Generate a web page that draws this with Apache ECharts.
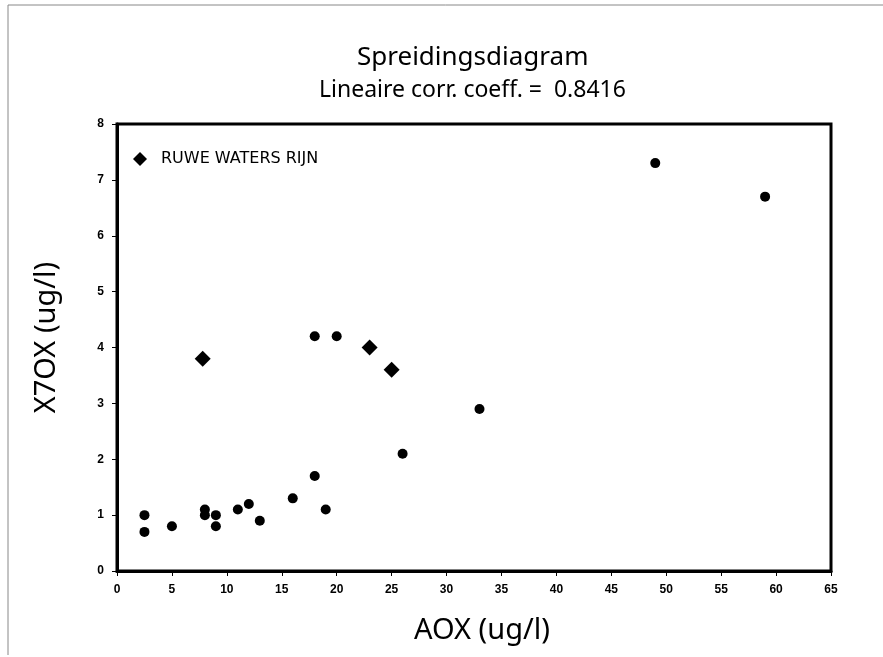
<!DOCTYPE html>
<html>
<head>
<meta charset="utf-8">
<title>Spreidingsdiagram</title>
<script src="https://cdn.jsdelivr.net/npm/echarts@6/dist/echarts.min.js"></script>
<style>
    html, body { margin: 0; padding: 0; background: #fff; }
    #chart { width: 883px; height: 657px; }
</style>
</head>
<body>
<div id="chart"></div>
<script>
// overige meetpunten (AOX, X7OX)
const otherPoints = [
    [2.5, 1.0], [2.5, 0.7], [5, 0.8], [8, 1.1], [8, 1.0], [9, 1.0], [9, 0.8],
    [11, 1.1], [12, 1.2], [13, 0.9], [16, 1.3], [18, 1.7], [19, 1.1],
    [26, 2.1], [33, 2.9], [18, 4.2], [20, 4.2], [49, 7.3], [59, 6.7]
];
// ruwe waters Rijn
const rijnPoints = [[7.8, 3.8], [23, 4.0], [25, 3.6]];

const xTicks = { min: 0, max: 65, interval: 5 };
const yTicks = { min: 0, max: 8, interval: 1 };

const titleText = 'Spreidingsdiagram';
const subText = 'Lineaire corr. coeff. =  0.8416';
const legendName = 'RUWE WATERS RIJN';

const fontFam = '"Noto Sans", "DejaVu Sans", sans-serif';
const tickFont = '"Liberation Sans", Arial, sans-serif';

function initChart() {
    const chart = echarts.init(document.getElementById('chart'));
    const axisLine = { show: true, onZero: false, lineStyle: { color: '#000', width: 3 } };
    const axisTick = { show: true, inside: false, length: 5, lineStyle: { color: '#000', width: 1 } };

    chart.setOption({
        animation: false,
        backgroundColor: '#fff',
        title: [
            {
                text: titleText,
                left: 352,
                top: 40,
                textStyle: { fontSize: 26, fontWeight: 'normal', color: '#000', fontFamily: fontFam }
            },
            {
                text: subText,
                left: 314,
                top: 74,
                textStyle: { fontSize: 23, fontWeight: 'normal', color: '#000', fontFamily: fontFam }
            }
        ],
        legend: {
            left: 128,
            top: 146,
            data: [legendName],
            itemWidth: 14,
            itemHeight: 14,
            textStyle: { fontSize: 16, color: '#000', fontFamily: '"DejaVu Sans", sans-serif', padding: [0, 0, 0, 9] }
        },
        grid: { left: 117, right: 52, top: 124, bottom: 86, show: true, borderColor: '#000', borderWidth: 3 },
        xAxis: {
            type: 'value',
            min: xTicks.min,
            max: xTicks.max,
            interval: xTicks.interval,
            name: 'AOX (ug/l)',
            nameLocation: 'middle',
            nameGap: 45,
            nameTextStyle: { fontSize: 29, color: '#000', fontFamily: fontFam, padding: [0, 0, 0, 16] },
            axisLine, axisTick,
            axisLabel: { color: '#000', fontSize: 12, fontWeight: 'bold', fontFamily: tickFont, margin: 13 },
            splitLine: { show: false }
        },
        yAxis: {
            type: 'value',
            min: yTicks.min,
            max: yTicks.max,
            interval: yTicks.interval,
            name: 'X7OX (ug/l)',
            nameLocation: 'middle',
            nameGap: 56,
            nameTextStyle: { fontSize: 29, color: '#000', fontFamily: fontFam, padding: [0, 0, 0, 20] },
            axisLine, axisTick,
            axisLabel: { color: '#000', fontSize: 12, fontWeight: 'bold', fontFamily: tickFont, margin: 13 },
            splitLine: { show: false }
        },
        graphic: [
            { type: 'line', shape: { x1: 8, y1: 5, x2: 8, y2: 655 }, style: { stroke: '#888', lineWidth: 1 } },
            { type: 'line', shape: { x1: 8, y1: 5, x2: 883, y2: 5 }, style: { stroke: '#888', lineWidth: 1 } }
        ],
        series: [
            {
                name: 'overig',
                type: 'scatter',
                symbol: 'circle',
                symbolSize: 10,
                itemStyle: { color: '#000', opacity: 1 },
                data: otherPoints
            },
            {
                name: legendName,
                type: 'scatter',
                symbol: 'diamond',
                symbolSize: 16,
                itemStyle: { color: '#000', opacity: 1 },
                data: rijnPoints
            }
        ]
    });
}

window.addEventListener('DOMContentLoaded', initChart);
</script>
</body>
</html>
